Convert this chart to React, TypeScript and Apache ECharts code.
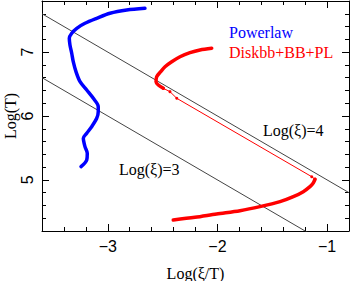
import React, { useEffect, useRef } from "react";
import * as echarts from "echarts";

// Axis ranges and ticks
const X_MIN = -3.6;
const X_MAX = -0.8;
const Y_MIN = 4.2;
const Y_MAX = 7.8;
const MINOR_STEP = 0.2;
const xMajorTicks = [-3, -2, -1];
const yMajorTicks = [5, 6, 7];

// Lines of constant ionisation parameter: Log(T) = Log(xi) - Log(xi/T)
const xiLevels = [3, 4];

// Powerlaw track
const powerlawLogXiT = [-2.661, -2.827, -2.98, -3.101, -3.208, -3.283, -3.329, -3.351, -3.345, -3.329, -3.315, -3.29, -3.253, -3.192, -3.132, -3.087, -3.087, -3.101, -3.147, -3.192, -3.223, -3.208, -3.187, -3.192, -3.244];
const powerlawLogT = [7.686, 7.659, 7.608, 7.529, 7.451, 7.373, 7.295, 7.216, 7.111, 6.982, 6.85, 6.694, 6.537, 6.407, 6.277, 6.146, 6.068, 5.964, 5.833, 5.73, 5.651, 5.52, 5.417, 5.312, 5.207];

// Diskbb+BB+PL track: lower branch, sparse connecting part, upper branch
const diskLowLogXiT = [-2.403, -2.205, -2.008, -1.794, -1.612, -1.429, -1.308, -1.217, -1.156, -1.126, -1.11];
const diskLowLogT = [4.373, 4.415, 4.467, 4.518, 4.581, 4.659, 4.737, 4.816, 4.894, 4.952, 5.01];
const diskMidLogXiT = [-1.11, -1.14, -2.371, -2.433, -2.494];
const diskMidLogT = [5.01, 5.05, 6.277, 6.381, 6.434];
const diskHighLogXiT = [-2.494, -2.539, -2.56, -2.554, -2.517, -2.478, -2.417, -2.341, -2.25, -2.159, -2.052];
const diskHighLogT = [6.434, 6.485, 6.537, 6.615, 6.694, 6.772, 6.85, 6.928, 6.991, 7.033, 7.06];

const POWERLAW = "Powerlaw";
const DISK = "Diskbb+BB+PL";
const BLUE = "#0000ff";
const RED = "#ff0000";

const zip = (xs: number[], ys: number[]) => xs.map((x, i) => [x, ys[i]]);
const isInt = (v: number) => Math.abs(v - Math.round(v)) < 1e-6;
const fmt = (v: number) => {
  if (!isInt(v)) return "";
  const r = Math.round(v);
  return r < 0 ? "\u2212" + Math.abs(r) : String(r);
};

const SANS = "Liberation Sans";
const SERIF = "Liberation Serif";

function makeXAxes() {
  const base = { type: "value", min: X_MIN, max: X_MAX, splitLine: { show: false } };
  return [
    {
      ...base,
      position: "bottom",
      interval: MINOR_STEP,
      axisLine: { show: true, lineStyle: { color: "#000", width: 1 } },
      axisTick: { show: true, inside: true, length: 4, lineStyle: { color: "#000" } },
      axisLabel: { show: true, formatter: fmt, margin: 7, color: "#000", fontSize: 16, fontFamily: SANS },
      name: "Log(\u03BE/T)",
      nameLocation: "middle",
      nameGap: 34,
      nameTextStyle: { color: "#000", fontSize: 16, fontFamily: SERIF },
    },
    {
      ...base,
      position: "bottom",
      axisLine: { show: false },
      axisTick: { show: true, inside: true, length: 7, customValues: xMajorTicks, lineStyle: { color: "#000" } },
      axisLabel: { show: false },
    },
    {
      ...base,
      position: "top",
      interval: MINOR_STEP,
      axisLine: { show: true, lineStyle: { color: "#000", width: 1 } },
      axisTick: { show: true, inside: true, length: 4, lineStyle: { color: "#000" } },
      axisLabel: { show: false },
    },
    {
      ...base,
      position: "top",
      axisLine: { show: false },
      axisTick: { show: true, inside: true, length: 7, customValues: xMajorTicks, lineStyle: { color: "#000" } },
      axisLabel: { show: false },
    },
  ];
}

function makeYAxes() {
  const base = { type: "value", min: Y_MIN, max: Y_MAX, splitLine: { show: false } };
  return [
    {
      ...base,
      position: "left",
      interval: MINOR_STEP,
      axisLine: { show: true, lineStyle: { color: "#000", width: 1 } },
      axisTick: { show: true, inside: true, length: 4, lineStyle: { color: "#000" } },
      axisLabel: { show: true, formatter: fmt, rotate: 90, margin: 7, color: "#000", fontSize: 16, fontFamily: SANS },
      name: "Log(T)",
      nameLocation: "middle",
      nameGap: 24,
      nameMoveOverlap: false,
      nameTextStyle: { color: "#000", fontSize: 16, lineHeight: 16, fontFamily: SERIF },
    },
    {
      ...base,
      position: "left",
      axisLine: { show: false },
      axisTick: { show: true, inside: true, length: 7, customValues: yMajorTicks, lineStyle: { color: "#000" } },
      axisLabel: { show: false },
    },
    {
      ...base,
      position: "right",
      interval: MINOR_STEP,
      axisLine: { show: true, lineStyle: { color: "#000", width: 1 } },
      axisTick: { show: true, inside: true, length: 4, lineStyle: { color: "#000" } },
      axisLabel: { show: false },
    },
    {
      ...base,
      position: "right",
      axisLine: { show: false },
      axisTick: { show: true, inside: true, length: 7, customValues: yMajorTicks, lineStyle: { color: "#000" } },
      axisLabel: { show: false },
    },
  ];
}

function buildOption() {
  const xiSeries = xiLevels.map((xi) => ({
    type: "line",
    name: "Log(\u03BE)=" + xi,
    xAxisIndex: 0,
    yAxisIndex: 0,
    data: [
      [X_MIN, xi - X_MIN],
      [X_MAX, xi - X_MAX],
    ],
    showSymbol: false,
    symbol: "none",
    clip: true,
    silent: true,
    lineStyle: { color: "#444", width: 1 },
    z: 1,
  }));

  const thick = (name: string, color: string, xs: number[], ys: number[]) => ({
    type: "line",
    name,
    xAxisIndex: 0,
    yAxisIndex: 0,
    data: zip(xs, ys),
    showSymbol: false,
    symbol: "none",
    smooth: 0.3,
    clip: true,
    lineStyle: { color, width: 3.5, cap: "round", join: "round" },
    itemStyle: { color },
    z: 3,
  });

  const legendText = { fontSize: 16, fontFamily: SERIF };

  return {
    animation: false,
    backgroundColor: "#fff",
    grid: { left: 42, top: 1, width: 307, height: 230, containLabel: false, outerBoundsMode: "none" },
    xAxis: makeXAxes(),
    yAxis: makeYAxes(),
    legend: {
      orient: "vertical",
      left: 219,
      top: 19,
      itemWidth: 0,
      itemHeight: 0,
      itemGap: 4,
      selectedMode: false,
      icon: "rect",
      textStyle: legendText,
      data: [
        { name: POWERLAW, textStyle: { ...legendText, color: BLUE } },
        { name: DISK, textStyle: { ...legendText, color: RED } },
      ],
    },
    graphic: [
      {
        type: "text",
        left: 263,
        top: 122,
        style: { text: "Log(\u03BE)=4", fill: "#000", fontSize: 16, fontFamily: SERIF },
      },
      {
        type: "text",
        left: 119,
        top: 161,
        style: { text: "Log(\u03BE)=3", fill: "#000", fontSize: 16, fontFamily: SERIF },
      },
    ],
    series: [
      ...xiSeries,
      thick(POWERLAW, BLUE, powerlawLogXiT, powerlawLogT),
      thick(DISK, RED, diskLowLogXiT, diskLowLogT),
      {
        type: "line",
        name: DISK,
        xAxisIndex: 0,
        yAxisIndex: 0,
        data: zip(diskMidLogXiT, diskMidLogT),
        showSymbol: true,
        symbol: "circle",
        symbolSize: 3,
        clip: true,
        lineStyle: { color: RED, width: 1 },
        itemStyle: { color: RED },
        z: 2,
      },
      thick(DISK, RED, diskHighLogXiT, diskHighLogT),
    ],
  };
}

export default function App() {
  const ref = useRef<HTMLDivElement>(null);
  useEffect(() => {
    if (!ref.current) return;
    const chart = echarts.init(ref.current, null, { renderer: "svg", width: 350, height: 281 });
    chart.setOption(buildOption() as any);
    return () => chart.dispose();
  }, []);
  return (
    <div
      ref={ref}
      style={{ position: "absolute", left: 0, top: 0, width: 350, height: 281, background: "#fff" }}
    />
  );
}
